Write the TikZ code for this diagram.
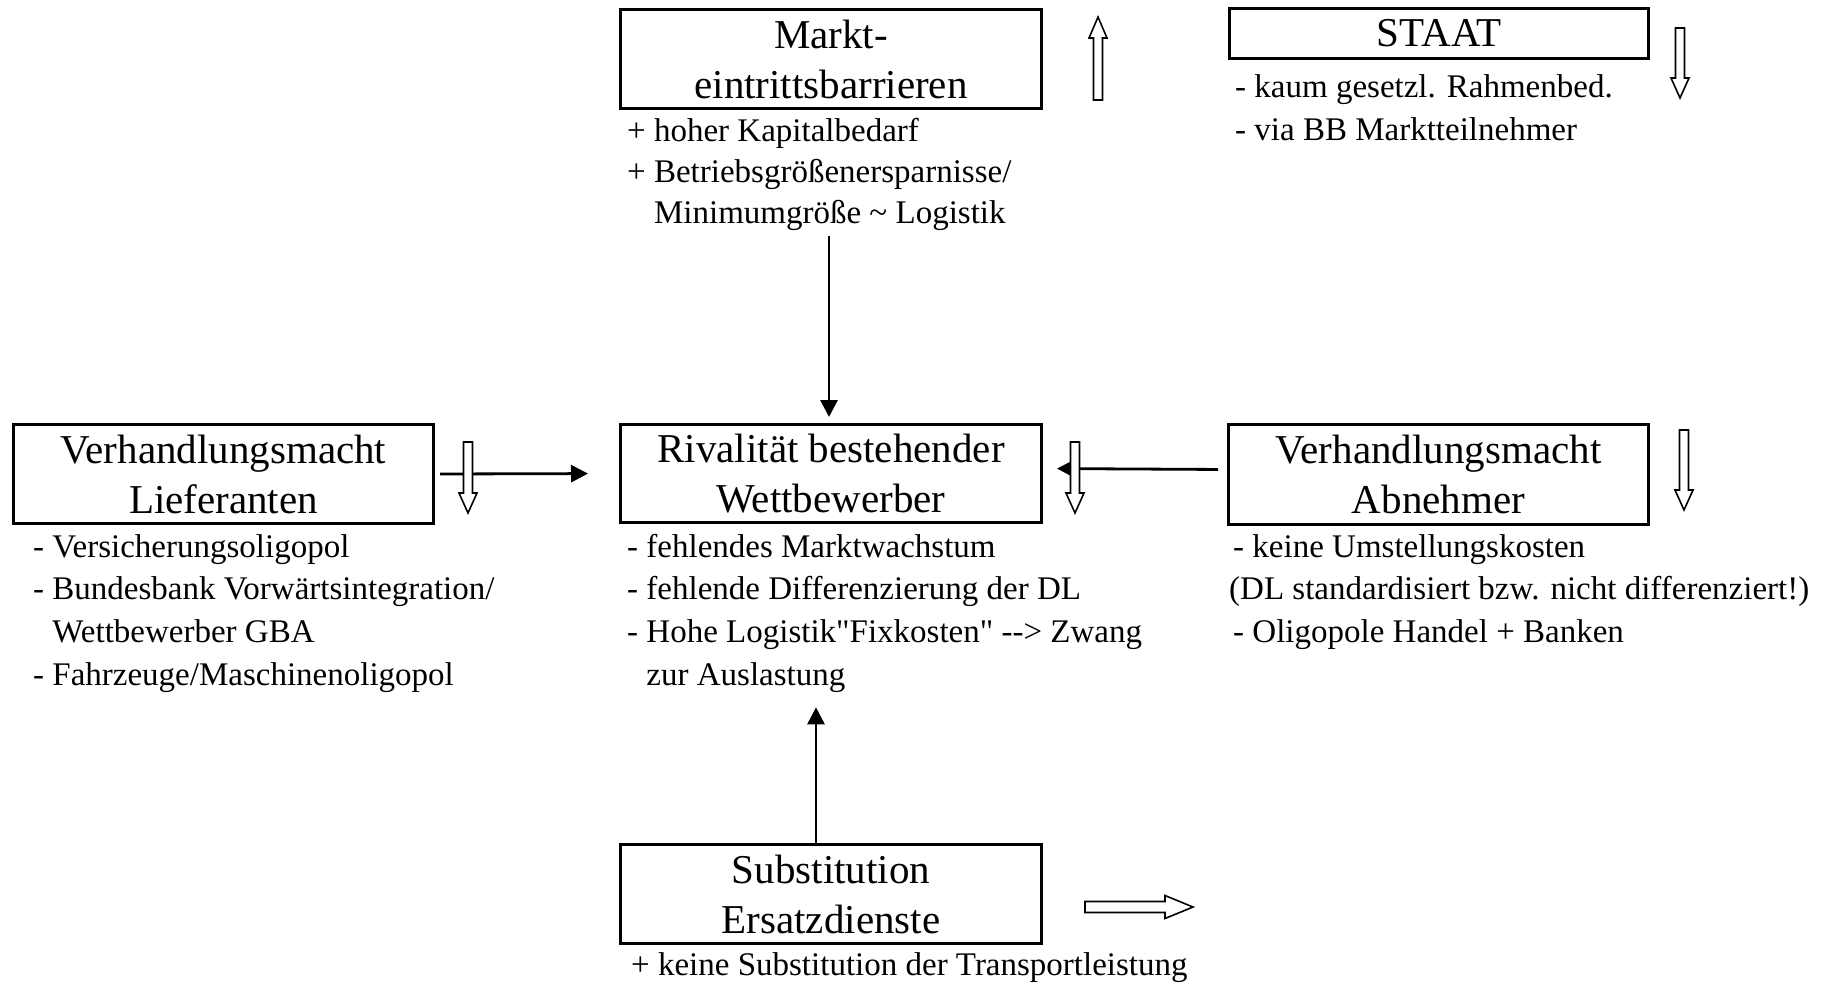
\documentclass[tikz,border=0pt]{standalone}
\usepackage{fontspec}
\newfontfamily\gfont{Liberation Serif}
\usetikzlibrary{arrows.meta}
\tikzset{
  box/.style={draw, line width=3pt, inner sep=0pt, align=center, font=\gfont\fontsize{41}{50}\selectfont},
  item/.style={anchor=base west, inner sep=0pt, font=\gfont\fontsize{33}{40}\selectfont},
  conn/.style={line width=2.8pt, -{Triangle[length=17pt,width=17pt]}},
  hollow/.style={draw, fill=white, line width=1.6pt, line join=miter},
}
\newcommand\hdown[3]{\draw[hollow] (#1-4.5,#2) -- (#1+4.5,#2) -- (#1+4.5,#3-20) -- (#1+9,#3-20) -- (#1,#3) -- (#1-9,#3-20) -- (#1-4.5,#3-20) -- cycle;}
\newcommand\hup[3]{\draw[hollow] (#1-4.5,#3) -- (#1+4.5,#3) -- (#1+4.5,#2+21) -- (#1+9,#2+21) -- (#1,#2) -- (#1-9,#2+21) -- (#1-4.5,#2+21) -- cycle;}
\newcommand\hright[3]{\draw[hollow] (#1,#3-5.5) -- (#2-28,#3-5.5) -- (#2-28,#3-11.5) -- (#2,#3) -- (#2-28,#3+11.5) -- (#2-28,#3+5.5) -- (#1,#3+5.5) -- cycle;}
\begin{document}
\begin{tikzpicture}[x=1pt,y=-1pt]
\useasboundingbox (0,0) rectangle (1841,986);

% boxes
\node[box, minimum width=421, minimum height=99] (markt) at (831,59) {Markt-\\eintrittsbarrieren};
\node[box, minimum width=419, minimum height=50] (staat) at (1439,33.5) {STAAT};
\node[box, minimum width=420, minimum height=99] (lief) at (223.5,474) {Verhandlungsmacht\\Lieferanten};
\node[box, minimum width=421, minimum height=98] (riv) at (831,473.5) {Rivalität bestehender\\Wettbewerber};
\node[box, minimum width=420, minimum height=100] (abn) at (1438.5,474.5) {Verhandlungsmacht\\Abnehmer};
\node[box, minimum width=421, minimum height=99] (sub) at (831,894) {Substitution\\Ersatzdienste};

% lists
\node[item] (m1) at (627,141) {+ hoher Kapitalbedarf};
\node[item] (m2) at (627,182) {+ Betriebsgrößenersparnisse/};
\node[item] (m3) at (627,223) {\hphantom{+ }Minimumgröße \textasciitilde{} Logistik};

\node[item] (s1) at (1235,97) {- kaum gesetzl. Rahmenbed.};
\node[item] (s2) at (1235,140) {- via BB Marktteilnehmer};

\node[item] (l1) at (33,557) {- Versicherungsoligopol};
\node[item] (l2) at (33,599) {- Bundesbank Vorwärtsintegration/};
\node[item] (l3) at (33,642) {\hphantom{- }Wettbewerber GBA};
\node[item] (l4) at (33,685) {- Fahrzeuge/Maschinenoligopol};

\node[item] (r1) at (627,557) {- fehlendes Marktwachstum};
\node[item] (r2) at (627,599) {- fehlende Differenzierung der DL};
\node[item] (r3) at (627,642) {- Hohe Logistik"Fixkosten" -\kern0pt-> Zwang};
\node[item] (r4) at (627,685) {\hphantom{- }zur Auslastung};

\node[item] (a1) at (1233,557) {- keine Umstellungskosten};
\node[item] (a2) at (1229,599) {(DL standardisiert bzw. nicht differenziert!)};
\node[item] (a3) at (1233,642) {- Oligopole Handel + Banken};

\node[item] (u1) at (631,975) {+ keine Substitution der Transportleistung};

% connectors
\draw[conn, shorten <=6pt, shorten >=6pt] ([xshift=-2pt]riv.north |- m3.south) -- ([xshift=-2pt]riv.north);
\draw[conn, shorten <=5pt, shorten >=31pt] (lief.east) -- (riv.west);
\draw[conn, shorten <=9pt, shorten >=14pt] ([yshift=5pt]abn.west) -- ([yshift=5pt]riv.east);
\draw[conn, shorten >=15pt] ([xshift=-15pt]sub.north) -- ([xshift=-15pt]sub.north |- r4.south);

% hollow trend arrows
\hup{1098}{17}{100}
\hdown{1680}{28}{98}
\hdown{468}{442}{513}
\hdown{1075}{442}{513}
\hdown{1684}{430}{510}
\hright{1085}{1193}{907}
\end{tikzpicture}
\end{document}
